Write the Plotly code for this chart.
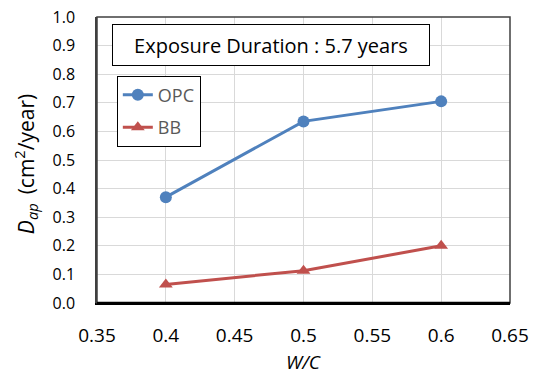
import plotly.graph_objects as go

wc = [0.4, 0.5, 0.6]
opc = [0.37, 0.635, 0.705]
bb = [0.065, 0.113, 0.2]
x_ticks = [0.35, 0.4, 0.45, 0.5, 0.55, 0.6, 0.65]
x_labels = ["0.35", "0.4", "0.45", "0.5", "0.55", "0.6", "0.65"]
y_ticks = [i / 10 for i in range(11)]
y_labels = [f"{v:.1f}" for v in y_ticks]

FONT = "Open Sans"

fig = go.Figure()
fig.add_trace(go.Scatter(x=wc, y=opc, name="OPC", mode="lines+markers", legendgroup="a",
                         line=dict(color="#4F81BD", width=3),
                         marker=dict(symbol="circle", size=12, color="#4F81BD")))
fig.add_trace(go.Scatter(x=wc, y=bb, name="BB", mode="lines+markers", legendgroup="b",
                         line=dict(color="#C0504D", width=3),
                         marker=dict(symbol="triangle-up", size=12, color="#C0504D")))

fig.update_layout(
    width=539, height=376,
    margin=dict(l=97, r=29, t=17, b=73),
    paper_bgcolor="white", plot_bgcolor="white",
    font=dict(family=FONT, color="black"),
    showlegend=True,
    legend=dict(x=0.048, y=0.795, xanchor="left", yanchor="top",
                bordercolor="black", borderwidth=1, bgcolor="white",
                font=dict(size=18, color="#595959", family=FONT),
                itemwidth=30, tracegroupgap=6, traceorder="grouped"),
    xaxis=dict(range=[0.35, 0.65], tickvals=x_ticks, ticktext=x_labels,
               showgrid=True, gridcolor="#D9D9D9", gridwidth=1,
               showline=True, linecolor="black", linewidth=2, mirror=False,
               ticks="", tickfont=dict(size=19, family=FONT), ticklabelstandoff=14,
               automargin=False, zeroline=False),
    yaxis=dict(range=[0, 1.0], tickvals=y_ticks, ticktext=y_labels,
               showgrid=True, gridcolor="#D9D9D9", gridwidth=1,
               showline=True, linecolor="#404040", linewidth=1.5, mirror=False,
               ticks="", tickfont=dict(size=16, family=FONT), ticklabelstandoff=17,
               automargin=False, zeroline=False),
)

# plot frame (top and right)
fig.add_shape(type="rect", xref="paper", yref="paper", x0=0, y0=0, x1=1, y1=1,
              line=dict(color="#404040", width=1.5), layer="above")
fig.add_shape(type="line", xref="paper", yref="paper", x0=0, y0=0, x1=1, y1=0,
              line=dict(color="black", width=2.5), layer="above")

# axis titles
fig.add_annotation(xref="paper", yref="paper", x=0.5, y=-0.205,
                   xanchor="center", yanchor="middle", showarrow=False, borderpad=0,
                   text="<i>W/C</i>", font=dict(size=19, family=FONT, color="black"))
fig.add_annotation(xref="paper", yref="paper", x=-0.174, y=0.486,
                   xanchor="center", yanchor="middle", showarrow=False, textangle=-90,
                   text="<i>D<sub>ap</sub></i> \u2009(cm<sup>2</sup>/year)",
                   font=dict(size=21, family=FONT, color="black"))

fig.add_annotation(xref="paper", yref="paper", x=0.421, y=0.902,
                   xanchor="center", yanchor="middle",
                   text="Exposure Duration : 5.7 years", showarrow=False,
                   font=dict(size=20, family=FONT, color="black"),
                   bordercolor="black", borderwidth=1, bgcolor="white",
                   width=314, height=38)

fig.write_html("out.html")
